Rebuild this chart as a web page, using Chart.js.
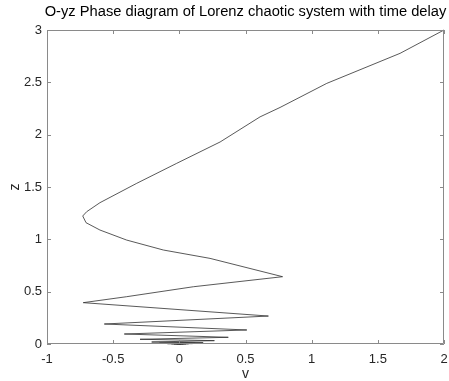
<!DOCTYPE html>
<html>
<head>
<meta charset="utf-8">
<title>O-yz Phase diagram</title>
<script src="https://cdn.jsdelivr.net/npm/chart.js@4/dist/chart.umd.min.js"></script>
<style>
    html, body { margin: 0; padding: 0; background: #fff; }
    #wrap { width: 449px; height: 381px; }
</style>
</head>
<body>
<div id="wrap"><canvas id="phaseChart" width="449" height="381"></canvas></div>
<script>
// y (horizontal) and z (vertical) along the trajectory
const vValues = [2.0, 1.668, 1.114, 0.761, 0.61, 0.308, -0.02, -0.322, -0.6, -0.70, -0.73, -0.705, -0.6, -0.398, -0.121,
    0.232, 0.78, 0.106, -0.398, -0.726, 0.673, -0.567, 0.51, -0.416, 0.37, -0.297, 0.265, -0.209, 0.18,
    -0.15, 0.12, -0.12, 0.1, -0.09, 0.07, -0.06, 0.05, -0.04, 0.03, -0.02, 0.01, 0];
const zValues = [3.0, 2.777, 2.49, 2.26, 2.17, 1.93, 1.726, 1.535, 1.35, 1.264, 1.223, 1.159, 1.089, 0.993, 0.898,
    0.818, 0.643, 0.547, 0.452, 0.395, 0.267, 0.191, 0.134, 0.0955, 0.064, 0.045, 0.032, 0.019, 0.012,
    0.008, 0.006, 0.005, 0.004, 0.003, 0.0025, 0.002, 0.0015, 0.001, 0.0008, 0.0005, 0.0002, 0];

const xTicks = [-1, -0.5, 0, 0.5, 1, 1.5, 2];
const yTicks = [0, 0.5, 1, 1.5, 2, 2.5, 3];

const TITLE = 'O-yz Phase diagram of Lorenz chaotic system with time delay';
const FONT = 'Arial, "Liberation Sans", Helvetica, sans-serif';
const AXIS_COLOR = '#8a8a8a';
const TEXT_COLOR = '#262626';

const points = vValues.map((v, i) => ({ x: v, y: zValues[i] }));

// box around the plot + inward tick marks on all four sides, title centred over the box
const boxTicks = {
    id: 'boxTicks',
    afterDraw(chart) {
        const { ctx, chartArea: a, scales } = chart;
        const len = 4;
        ctx.save();
        ctx.strokeStyle = AXIS_COLOR;
        ctx.lineWidth = 1;
        ctx.beginPath();
        ctx.rect(a.left + 0.5, a.top + 0.5, a.right - a.left - 1, a.bottom - a.top - 1);
        xTicks.forEach(t => {
            const px = Math.round(scales.x.getPixelForValue(t)) + 0.5;
            ctx.moveTo(px, a.bottom); ctx.lineTo(px, a.bottom - len);
            ctx.moveTo(px, a.top); ctx.lineTo(px, a.top + len);
        });
        yTicks.forEach(t => {
            const py = Math.round(scales.y.getPixelForValue(t)) + 0.5;
            ctx.moveTo(a.left, py); ctx.lineTo(a.left + len, py);
            ctx.moveTo(a.right, py); ctx.lineTo(a.right - len, py);
        });
        ctx.stroke();

        ctx.fillStyle = '#000';
        ctx.font = '14.7px ' + FONT;
        ctx.textAlign = 'center';
        ctx.textBaseline = 'alphabetic';
        ctx.fillText(TITLE, (a.left + a.right) / 2, 15.5);
        ctx.restore();
    }
};

new Chart(document.getElementById('phaseChart'), {
    type: 'scatter',
    data: {
        datasets: [{
            data: points,
            showLine: true,
            borderColor: '#2e2e2e',
            borderWidth: 0.8,
            pointRadius: 0,
            tension: 0,
            clip: false
        }]
    },
    options: {
        responsive: false,
        animation: false,
        layout: { padding: { right: 5, top: 30, left: 0, bottom: 0 } },
        plugins: {
            legend: { display: false },
            tooltip: { enabled: false },
            title: { display: false }
        },
        scales: {
            x: {
                type: 'linear',
                min: -1,
                max: 2,
                afterBuildTicks: s => { s.ticks = xTicks.map(v => ({ value: v })); },
                afterFit: s => { s.height = 37; },
                grid: { display: false },
                border: { display: false },
                ticks: {
                    color: TEXT_COLOR,
                    font: { family: FONT, size: 13 },
                    padding: 0,
                    maxRotation: 0,
                    callback: v => String(v)
                },
                title: {
                    display: true,
                    text: 'v',
                    color: TEXT_COLOR,
                    font: { family: FONT, size: 14 },
                    padding: { top: 0, bottom: -2 }
                }
            },
            y: {
                type: 'linear',
                min: 0,
                max: 3,
                afterBuildTicks: s => { s.ticks = yTicks.map(v => ({ value: v })); },
                afterFit: s => { s.width = 47; },
                grid: { display: false, drawTicks: false },
                border: { display: false },
                ticks: {
                    color: TEXT_COLOR,
                    font: { family: FONT, size: 13 },
                    padding: 5,
                    callback: v => String(v)
                },
                title: {
                    display: true,
                    text: 'z',
                    color: TEXT_COLOR,
                    font: { family: FONT, size: 14 },
                    padding: { top: 7, bottom: 0 }
                }
            }
        }
    },
    plugins: [boxTicks]
});
</script>
</body>
</html>
